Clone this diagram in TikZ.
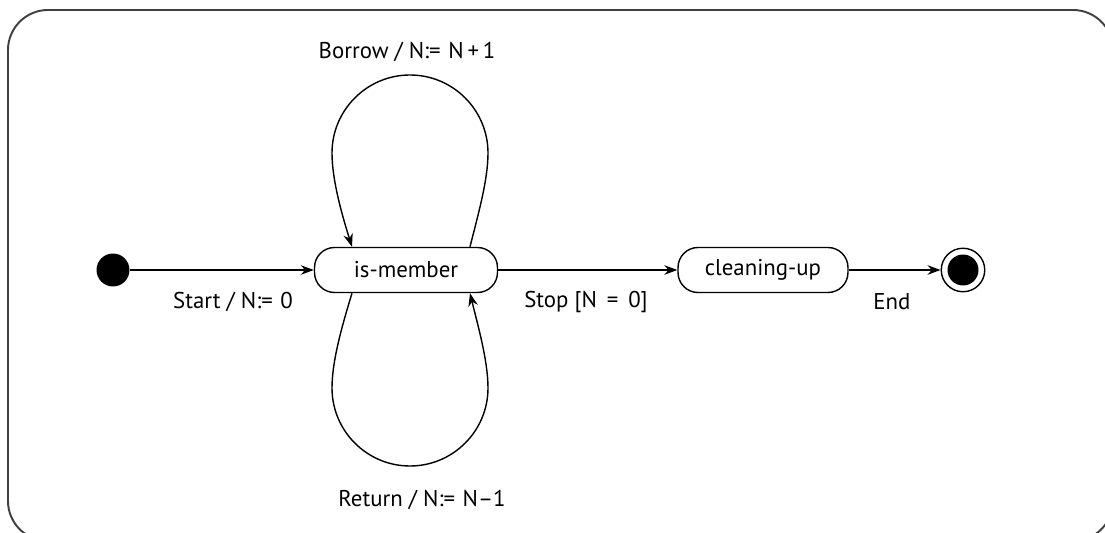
\documentclass[tikz,border=0pt]{standalone}
\usepackage{fontspec}
\setmainfont{PT Sans}
\usetikzlibrary{arrows.meta,calc}
\begin{document}
\begin{tikzpicture}[x=0.02cm,y=-0.02cm,
  line width=0.8pt,
  txt/.style={font=\fontsize{13}{15}\selectfont},
  state/.style={draw, txt, rounded corners=0.4cm, minimum height=0.9cm, inner sep=0pt},
  lbl/.style={txt, inner sep=0pt},
  tr/.style={-{Stealth[length=0.26cm,width=0.19cm]}},
]
\useasboundingbox (0,0) rectangle (1105,533);
\begin{scope}
\clip (0,0) rectangle (1105,533);
\draw[line width=1.1pt, black!75, rounded corners=0.8cm] (8,10) rectangle (1113,541);
\end{scope}
\node[circle, fill, minimum size=0.66cm, inner sep=0pt] (init) at (113,270) {};
\node[state, minimum width=3.66cm] (im) at (406,270) {is-member};
\node[state, minimum width=3.4cm] (cu) at (763,270) {cleaning-up};
\node[circle, draw, minimum size=0.87cm, inner sep=0pt] (fin) at (963,270) {};
\node[circle, fill, minimum size=0.62cm, inner sep=0pt] (finin) at (fin) {};

\draw[tr] (init) -- (im) node[lbl, pos=.56, yshift=-0.64cm] (l1) {Start / N:=\,\,0};
\draw[tr] (im) -- (cu) node[lbl, pos=.49, yshift=-0.64cm] (l2) {Stop [N\ \,=\ \,0]};
\draw[tr] (cu) -- (fin) node[lbl, pos=.47, yshift=-0.64cm] (l3) {End};

\draw[tr] ($(im.north)+(64,0)$) .. controls (478,215) and (488,180) .. (488,153)
  .. controls (488,110) and (453,75) .. (410,75)
  .. controls (367,75) and (332,110) .. (332,153)
  .. controls (332,180) and (342,215) .. ($(im.north)+(-54,0)$);
\draw[tr] ($(im.south)+(-54,0)$) .. controls (342,326) and (332,361) .. (332,388)
  .. controls (332,431) and (367,466) .. (410,466)
  .. controls (453,466) and (488,431) .. (488,388)
  .. controls (488,361) and (478,326) .. ($(im.south)+(64,0)$);
\node[lbl] (lb) at (407,52) {Borrow / N:=\,\,N\,+\,1};
\node[lbl] (lr) at (422,500) {Return / N:=\,\,N–1};
\end{tikzpicture}
\end{document}
